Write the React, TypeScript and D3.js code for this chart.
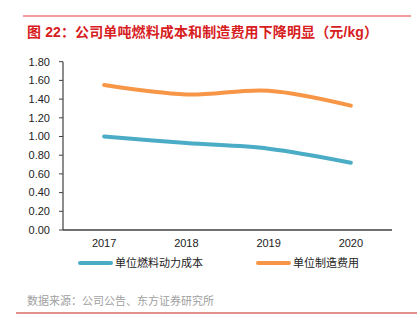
import React from "react";
import * as d3 from "d3";

const years = ["2017", "2018", "2019", "2020"];
const fuelCost = [1.0, 0.93, 0.87, 0.72];
const mfgCost = [1.55, 1.45, 1.49, 1.33];
const yTicks = [0, 0.2, 0.4, 0.6, 0.8, 1.0, 1.2, 1.4, 1.6, 1.8];
const seriesNames = ["单位燃料动力成本", "单位制造费用"];
const title = "图 22：公司单吨燃料成本和制造费用下降明显（元/kg）";
const source = "数据来源：公司公告、东方证券研究所";

const W = 420;
const H = 325;
const FONT = "'Liberation Sans', Arial, 'Noto Sans CJK SC', sans-serif";

export default function App() {
  const x = d3.scaleBand<string>().domain(years).range([63, 392]);
  const y = d3.scaleLinear().domain([0, 1.8]).range([230, 61.7]);
  const line = d3
    .line<number>()
    .x((_, i) => (x(years[i]) as number) + x.bandwidth() / 2)
    .y((d) => y(d))
    .curve(d3.curveCatmullRom.alpha(0.5));
  const blue = "#4BACC6";
  const orange = "#F79646";
  return (
    <svg
      width={W}
      height={H}
      style={{ position: "absolute", left: 0, top: 0, background: "#fff" }}
      fontFamily={FONT}
    >
      <line x1={23} x2={411} y1={16} y2={16} stroke="#E8383D" strokeWidth={1} />
      <text
        x={27}
        y={37}
        fontSize={14}
        fontWeight="bold"
        fill="#D7201E"
        textLength={351}
        lengthAdjust="spacing"
      >
        {title}
      </text>
      {/* y axis */}
      <line x1={63} x2={63} y1={y(1.8)} y2={y(0)} stroke="#404040" strokeWidth={1.2} />
      {yTicks.map((t) => (
        <g key={t}>
          <line x1={59} x2={63} y1={y(t)} y2={y(t)} stroke="#404040" strokeWidth={1} />
          <text x={50} y={y(t)} dy="0.35em" textAnchor="end" fontSize={11} fill="#222">
            {t.toFixed(2)}
          </text>
        </g>
      ))}
      {/* x axis */}
      <line x1={63} x2={392} y1={y(0)} y2={y(0)} stroke="#404040" strokeWidth={1.5} />
      {years.map((yr) => (
        <text
          key={yr}
          x={(x(yr) as number) + x.bandwidth() / 2}
          y={243.5}
          dy="0.35em"
          textAnchor="middle"
          fontSize={11}
          fill="#222"
        >
          {yr}
        </text>
      ))}
      <path d={line(mfgCost) || ""} fill="none" stroke={orange} strokeWidth={4} strokeLinecap="round" />
      <path d={line(fuelCost) || ""} fill="none" stroke={blue} strokeWidth={4} strokeLinecap="round" />
      {/* legend */}
      <line x1={80} x2={111} y1={263} y2={263} stroke={blue} strokeWidth={4} strokeLinecap="round" />
      <text x={115} y={263} dy="0.35em" fontSize={11} fill="#222">
        {seriesNames[0]}
      </text>
      <line x1={258} x2={289} y1={263} y2={263} stroke={orange} strokeWidth={4} strokeLinecap="round" />
      <text x={293} y={263} dy="0.35em" fontSize={11} fill="#222">
        {seriesNames[1]}
      </text>
      <text x={27} y={301} dy="0.35em" fontSize={11} fill="#A0A0A0">
        {source}
      </text>
      <line x1={16} x2={417} y1={313} y2={313} stroke="#C8201E" strokeWidth={1} />
    </svg>
  );
}
